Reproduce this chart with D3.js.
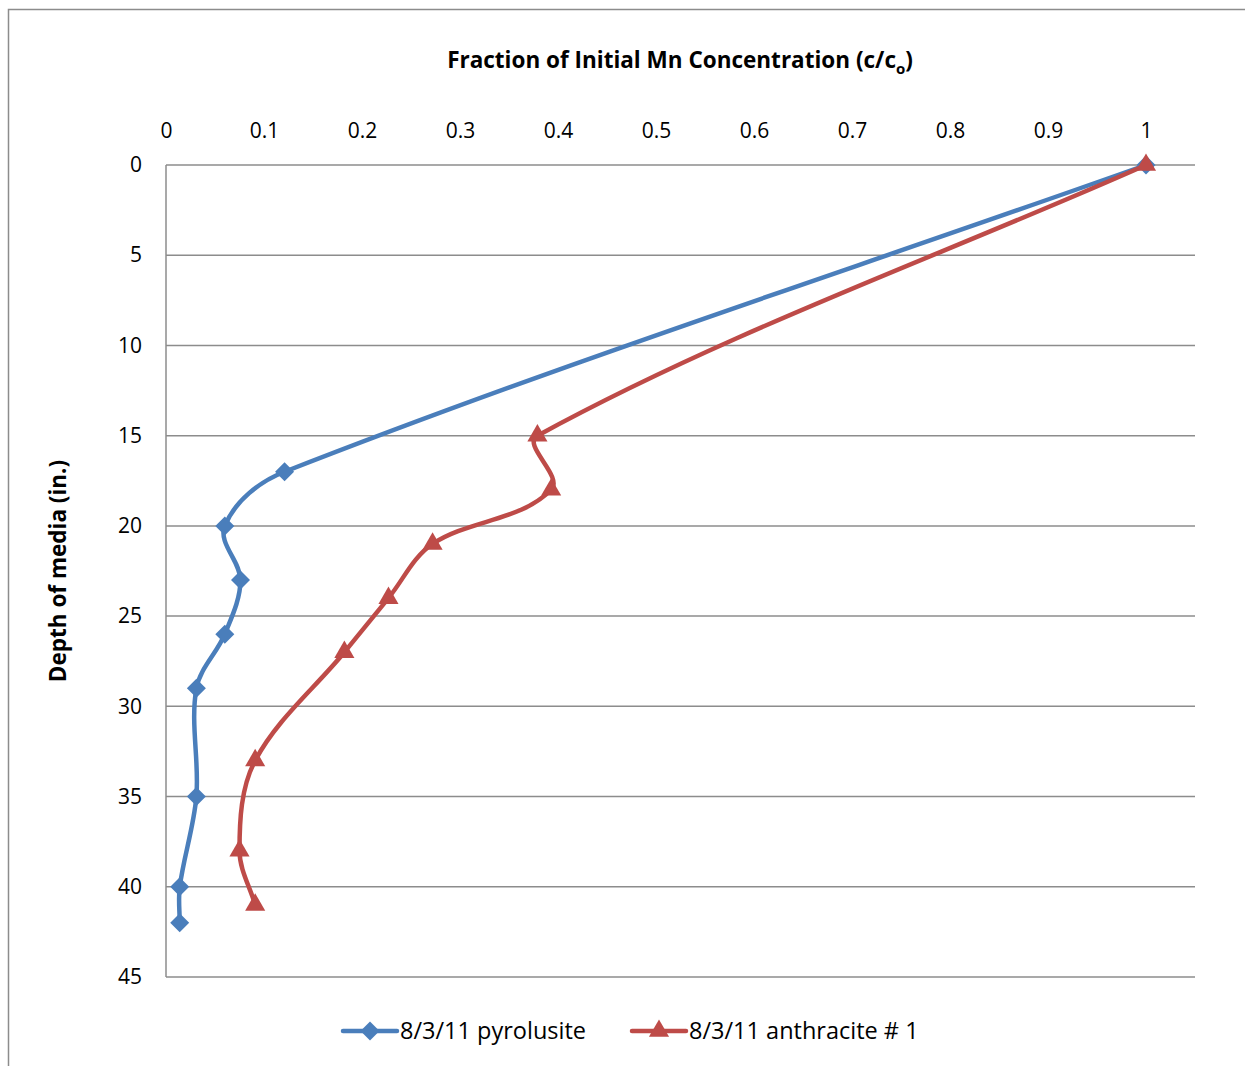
<!DOCTYPE html>
<html>
<head>
<meta charset="utf-8">
<script src="https://cdn.jsdelivr.net/npm/d3@7"></script>
<style>
  html, body { margin: 0; padding: 0; background: #fff; }
  svg { display: block; font-family: "Open Sans", "Noto Sans", sans-serif; }
</style>
</head>
<body>
<svg id="chart" width="1245" height="1066"></svg>
<script>
// Fraction of initial Mn concentration (c/co) versus depth of media (in.)
const pyrolusiteFraction = [1, 0.121, 0.060, 0.076, 0.060, 0.031, 0.031, 0.014, 0.014];
const pyrolusiteDepth    = [0, 17, 20, 23, 26, 29, 35, 40, 42];
const anthraciteFraction = [1, 0.379, 0.393, 0.272, 0.227, 0.182, 0.091, 0.075, 0.091];
const anthraciteDepth    = [0, 15, 18, 21, 24, 27, 33, 38, 41];
const seriesNames = ["8/3/11 pyrolusite", "8/3/11 anthracite # 1"];
const xTicks = [0, 0.1, 0.2, 0.3, 0.4, 0.5, 0.6, 0.7, 0.8, 0.9, 1];
const yTicks = [0, 5, 10, 15, 20, 25, 30, 35, 40, 45];

const svg = d3.select("#chart");
const plot = { left: 166, right: 1195, top: 165, bottom: 977 };
const blue = "#4A7EBB", red = "#BE4B48", grid = "#8C8C8C";

// outer chart frame
svg.append("rect").attr("x", 8.5).attr("y", 9.5).attr("width", 1245).attr("height", 1070)
  .attr("fill", "none").attr("stroke", "#8C8C8C").attr("stroke-width", 1.5);

const x = d3.scaleLinear().domain([0, 1]).range([plot.left, 1146]);
const y = d3.scaleLinear().domain([0, 45]).range([plot.top, plot.bottom]);

// horizontal gridlines
svg.append("g").selectAll("line").data(yTicks).join("line")
  .attr("x1", plot.left).attr("x2", plot.right)
  .attr("y1", d => y(d)).attr("y2", d => y(d))
  .attr("stroke", grid).attr("stroke-width", 1.5);

// left axis line
svg.append("line").attr("x1", plot.left).attr("x2", plot.left)
  .attr("y1", plot.top).attr("y2", plot.bottom)
  .attr("stroke", grid).attr("stroke-width", 1.5);

// x tick labels (on top)
const xAxis = d3.axisTop(x).tickValues(xTicks).tickFormat(d3.format("")).tickSize(0).tickPadding(0);
const gx = svg.append("g").attr("transform", `translate(0,${plot.top - 27})`).call(xAxis);
gx.select(".domain").remove();
gx.selectAll("text").attr("font-size", 21).attr("fill", "#000").attr("font-family", "'Open Sans', sans-serif");

// y tick labels
const yAxis = d3.axisLeft(y).tickValues(yTicks).tickSize(0).tickPadding(0);
const gy = svg.append("g").attr("transform", `translate(${plot.left - 24},0)`).call(yAxis);
gy.select(".domain").remove();
gy.selectAll("text").attr("font-size", 21).attr("fill", "#000").attr("font-family", "'Open Sans', sans-serif");

// axis titles
const title = svg.append("text").attr("x", 680).attr("y", 68).attr("text-anchor", "middle")
  .attr("font-size", 22.5).attr("font-weight", "bold").attr("fill", "#000");
title.append("tspan").text("Fraction of Initial Mn Concentration (c/c");
title.append("tspan").attr("font-size", 15).attr("dy", 6).text("o");
title.append("tspan").attr("dy", -6).text(")");

svg.append("text").attr("transform", "translate(66,571) rotate(-90)")
  .attr("text-anchor", "middle").attr("font-size", 22.5).attr("font-weight", "bold")
  .attr("fill", "#000").text("Depth of media (in.)");

// Smoothed line: tangent at each point follows the neighbouring chord,
// control handles scaled by each segment's own length (no overshoot).
function smoothPath(pts) {
  const p = d3.path();
  const n = pts.length;
  const tan = pts.map((pt, i) => {
    const a = pts[Math.max(0, i - 1)], b = pts[Math.min(n - 1, i + 1)];
    const dx = b[0] - a[0], dy = b[1] - a[1];
    const len = Math.hypot(dx, dy) || 1;
    return [dx / len, dy / len];
  });
  p.moveTo(pts[0][0], pts[0][1]);
  for (let i = 0; i < n - 1; i++) {
    const a = pts[i], b = pts[i + 1];
    const L = Math.hypot(b[0] - a[0], b[1] - a[1]) / 3;
    p.bezierCurveTo(a[0] + tan[i][0] * L, a[1] + tan[i][1] * L,
                    b[0] - tan[i + 1][0] * L, b[1] - tan[i + 1][1] * L,
                    b[0], b[1]);
  }
  return p.toString();
}

const pyro = pyrolusiteFraction.map((v, i) => [v, pyrolusiteDepth[i]]);
const anth = anthraciteFraction.map((v, i) => [v, anthraciteDepth[i]]);

const diamond = d3.symbol().type(d3.symbolDiamond2).size(230);
const triangle = d3.symbol().type(d3.symbolTriangle2).size(290);

function drawSeries(data, color, sym) {
  svg.append("path").attr("d", smoothPath(data.map(d => [x(d[0]), y(d[1])])))
    .attr("fill", "none").attr("stroke", color).attr("stroke-width", 4.5)
    .attr("stroke-linejoin", "round").attr("stroke-linecap", "round");
  svg.append("g").selectAll("path").data(data).join("path")
    .attr("transform", d => `translate(${x(d[0])},${y(d[1])})`)
    .attr("d", sym).attr("fill", color);
}
drawSeries(pyro, blue, diamond);
drawSeries(anth, red, triangle);

// legend
const legend = [
  { name: seriesNames[0], color: blue, sym: diamond, x0: 343 },
  { name: seriesNames[1], color: red, sym: triangle, x0: 632 }
];
const lg = svg.append("g");
legend.forEach(l => {
  lg.append("line").attr("x1", l.x0).attr("x2", l.x0 + 54).attr("y1", 1031).attr("y2", 1031)
    .attr("stroke", l.color).attr("stroke-width", 4.5).attr("stroke-linecap", "round");
  lg.append("path").attr("transform", `translate(${l.x0 + 27},1031)`).attr("d", l.sym).attr("fill", l.color);
  lg.append("text").attr("x", l.x0 + 57).attr("y", 1039).attr("font-size", 23.5)
    .attr("fill", "#000").text(l.name);
});
</script>
</body>
</html>
